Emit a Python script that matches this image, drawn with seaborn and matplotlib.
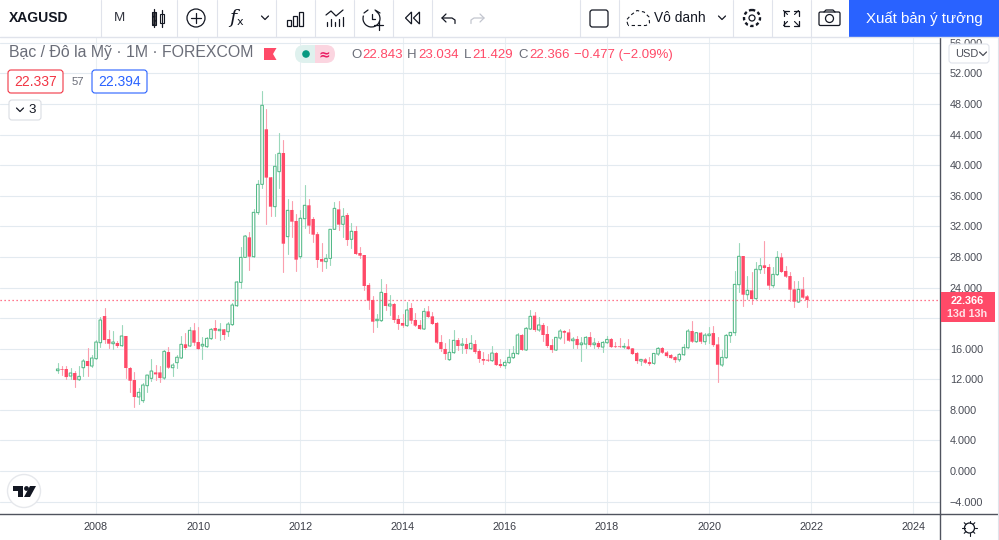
import numpy as np
import pandas as pd
import matplotlib
matplotlib.use('Agg')
import matplotlib.pyplot as plt
from matplotlib.patches import Circle, FancyBboxPatch, Polygon, Rectangle, Arc
import seaborn as sns

# monthly candles, Apr 2007 -> Dec 2021
first_year = 2007.25
open_px = [13.12, 13.34, 13.34, 12.42, 12.82, 11.94, 13.51, 14.39, 13.73,
           14.69, 16.78, 20.27, 17.26, 16.65, 16.74, 16.39, 17.66, 13.47, 11.90, 9.68, 9.20,
           11.16, 12.12, 12.90, 12.90, 12.16, 15.56, 13.51, 14.17, 14.78, 16.57, 16.35, 18.40,
           16.87, 16.35, 16.26, 17.31, 18.70, 18.35, 18.53, 18.22, 19.14, 21.62, 24.67, 27.94,
           30.56, 28.03, 33.79, 37.49, 44.69, 38.41, 34.57, 39.15, 41.59, 30.65, 34.14, 32.70,
           28.03, 33.00, 34.75, 32.96, 30.98, 27.73, 27.38, 27.81, 31.61, 34.22, 32.26, 33.48,
           30.30, 31.39, 28.51, 28.25, 24.33, 22.37, 19.66, 19.66, 23.28, 21.58, 21.84, 19.88,
           19.36, 19.01, 21.32, 19.75, 19.10, 18.57, 20.88, 20.23, 19.36, 16.87, 15.96, 14.56,
           15.48, 17.13, 16.44, 16.61, 16.00, 16.61, 15.70, 14.65, 14.56, 14.43, 15.43, 13.99,
           13.78, 14.17, 14.82, 15.35, 17.79, 15.83, 18.57, 20.32, 18.44, 19.10, 17.92, 16.47,
           15.82, 17.39, 18.31, 18.13, 17.04, 17.26, 16.52, 16.60, 17.52, 16.52, 16.74, 16.21,
           16.78, 17.26, 16.30, 16.30, 16.21, 16.30, 16.04, 15.43, 14.38, 14.60, 14.25, 14.08,
           15.30, 16.08, 15.51, 15.17, 14.90, 14.55, 15.21, 16.12, 18.31, 16.91, 18.09, 16.91,
           17.70, 18.04, 16.56, 13.86, 14.82, 17.70, 18.09, 24.37, 28.12, 23.06, 23.63, 22.54,
           26.33, 26.90, 26.68, 24.24, 25.68, 27.94, 26.16, 25.50, 23.76, 22.10, 23.76, 22.843]
high_px = [14.17, 13.73, 13.73, 13.43, 13.12, 13.73, 14.65, 16.04, 15.17,
           17.13, 20.10, 21.32, 18.44, 18.35, 17.00, 19.09, 17.66, 13.65, 12.90, 10.81, 11.55,
           12.55, 14.65, 13.86, 13.73, 15.82, 16.26, 14.08, 15.17, 17.66, 18.00, 18.88, 19.40,
           18.79, 17.57, 17.57, 18.75, 19.75, 19.40, 18.53, 19.53, 22.02, 24.85, 29.34, 30.87,
           31.21, 34.22, 38.06, 49.74, 47.30, 38.41, 41.46, 44.16, 43.29, 35.57, 35.36, 33.61,
           34.14, 37.41, 35.57, 33.18, 31.21, 29.78, 28.38, 31.61, 35.18, 35.31, 34.35, 33.79,
           32.39, 32.04, 29.34, 28.25, 24.55, 22.89, 20.53, 25.11, 24.46, 23.02, 21.93, 20.40,
           20.53, 22.06, 21.93, 20.62, 19.75, 21.28, 21.58, 20.84, 19.53, 17.79, 16.79, 17.26,
           18.44, 17.44, 17.35, 17.35, 17.79, 17.13, 15.91, 15.52, 15.30, 16.35, 15.52, 14.65,
           14.52, 15.91, 16.35, 18.00, 17.88, 18.88, 21.06, 20.75, 20.18, 19.31, 18.96, 17.26,
           17.48, 18.52, 18.44, 18.57, 17.48, 17.65, 17.56, 17.69, 18.22, 17.43, 17.00, 17.04,
           17.65, 17.35, 16.87, 17.43, 16.78, 17.26, 16.12, 15.56, 14.60, 14.73, 14.86, 15.38,
           16.17, 16.17, 15.69, 15.30, 15.03, 15.47, 16.60, 18.57, 19.66, 18.22, 18.22, 18.00,
           18.87, 18.96, 17.48, 15.82, 17.92, 18.22, 26.20, 29.86, 28.12, 25.50, 26.03, 27.40,
           27.81, 30.12, 27.03, 26.72, 28.77, 28.47, 26.81, 25.98, 24.85, 24.85, 25.42, 23.034]
low_px = [12.86, 12.55, 12.03, 12.07, 10.98, 11.90, 12.42, 12.42, 13.56,
          14.69, 16.26, 16.70, 16.04, 15.95, 16.26, 16.39, 12.21, 10.37, 8.41, 8.76, 9.07,
          10.37, 11.81, 11.90, 11.68, 12.03, 13.43, 12.42, 13.51, 14.78, 15.91, 16.35, 16.48,
          15.91, 14.65, 16.26, 17.26, 17.35, 17.13, 17.26, 17.70, 19.14, 21.62, 23.89, 27.94,
          26.29, 28.03, 33.57, 37.06, 32.30, 33.39, 33.39, 37.06, 26.07, 28.42, 30.65, 26.16,
          27.81, 31.74, 31.17, 29.99, 26.72, 26.20, 26.51, 26.94, 31.61, 31.52, 30.65, 29.56,
          29.21, 28.38, 27.81, 23.67, 21.14, 18.18, 18.79, 19.66, 21.06, 20.40, 19.53, 18.57,
          18.90, 19.01, 19.40, 18.97, 18.53, 18.57, 20.10, 19.18, 16.74, 15.70, 14.61, 14.52,
          15.39, 15.83, 15.39, 15.39, 15.91, 15.39, 14.30, 14.00, 14.43, 14.34, 13.82, 13.56,
          13.50, 14.17, 14.74, 15.30, 15.83, 15.83, 18.57, 18.31, 18.31, 17.04, 16.26, 15.60,
          15.82, 17.26, 16.69, 16.99, 16.12, 16.12, 14.38, 16.12, 16.39, 16.12, 16.12, 15.60,
          16.69, 16.21, 16.17, 16.17, 16.04, 15.91, 15.25, 14.08, 13.86, 14.08, 13.86, 13.99,
          15.17, 15.38, 14.95, 14.73, 14.25, 14.43, 15.12, 16.04, 16.82, 16.82, 16.69, 16.56,
          16.69, 16.39, 11.68, 13.73, 14.73, 16.91, 17.79, 23.37, 21.58, 22.49, 21.84, 22.49,
          25.85, 25.85, 23.80, 24.10, 25.68, 25.98, 25.33, 22.28, 21.40, 22.06, 22.58, 21.429]
close_px = [13.34, 13.25, 12.29, 12.82, 11.90, 12.38, 14.39, 13.73, 14.78,
            16.87, 19.75, 17.13, 16.65, 16.87, 16.35, 17.66, 13.47, 11.81, 9.68, 10.29, 11.25,
            12.55, 13.08, 12.64, 12.16, 15.65, 13.51, 13.86, 14.88, 16.57, 16.09, 18.40, 16.78,
            15.95, 16.57, 17.35, 18.53, 18.35, 18.53, 17.79, 19.22, 21.71, 24.72, 27.94, 30.73,
            28.03, 33.83, 37.49, 47.83, 38.37, 34.57, 39.85, 41.55, 29.73, 34.09, 32.61, 27.64,
            33.05, 34.75, 32.09, 30.91, 27.60, 27.38, 27.81, 31.61, 34.35, 32.22, 33.31, 30.21,
            31.35, 28.38, 28.16, 24.20, 22.28, 19.53, 19.84, 23.37, 21.58, 21.84, 19.75, 19.23,
            19.01, 21.06, 19.66, 19.01, 18.57, 20.88, 20.14, 19.23, 16.79, 15.96, 15.30, 15.52,
            17.09, 16.35, 16.61, 15.96, 16.70, 15.56, 14.65, 14.43, 14.43, 15.43, 13.86, 13.73,
            14.21, 14.87, 15.39, 17.79, 15.83, 18.66, 20.23, 18.44, 19.10, 17.79, 16.35, 15.82,
            17.48, 18.31, 18.09, 17.04, 17.26, 16.47, 16.74, 17.48, 16.47, 16.74, 16.21, 16.82,
            17.21, 16.21, 16.21, 16.21, 16.30, 15.95, 15.30, 14.38, 14.60, 14.16, 13.99, 15.38,
            16.04, 15.47, 15.03, 14.77, 14.51, 15.25, 16.17, 18.31, 16.91, 18.09, 16.91, 17.78,
            17.91, 16.47, 13.90, 14.86, 17.74, 18.13, 24.41, 28.08, 23.06, 23.63, 22.49, 26.38,
            26.85, 26.55, 24.24, 25.72, 27.94, 26.03, 25.42, 23.72, 22.15, 23.76, 22.67, 22.366]

price_ticks = list(range(-4, 57, 4))
year_ticks = [2008, 2010, 2012, 2014, 2016, 2018, 2020, 2022, 2024]
ohlc_labels = ['O', 'H', 'L', 'C']
ohlc_values = ['22.843', '23.034', '21.429', '22.366']

GREEN = '#53b987'
RED = '#ff4a68'
GREEN_WICK = '#9bd8bb'
RED_WICK = '#fb9fae'
GRID = '#e3eaf0'
AXIS = '#50535e'
TEXT = '#131722'
GREY = '#6a6d78'

df = pd.DataFrame({'open': open_px, 'high': high_px, 'low': low_px, 'close': close_px})
df['candle'] = range(len(df))
df['year'] = first_year + df['candle'] / 12
df['direction'] = np.where(df['close'] >= df['open'], 'up', 'down')

wicks = df.melt(id_vars=['candle', 'year', 'direction'], value_vars=['high', 'low'], value_name='price')

sns.set_style('whitegrid', {'grid.color': GRID, 'axes.edgecolor': AXIS})
plt.rcParams['font.family'] = ['Liberation Sans', 'DejaVu Sans']

fig = plt.figure(figsize=(9.99, 5.4), dpi=100)
ax = fig.add_axes([0, 26 / 540, 940 / 999, 477 / 540])

sns.lineplot(data=wicks, x='year', y='price', units='candle', hue='direction', estimator=None,
             sort=False, palette={'up': GREEN_WICK, 'down': RED_WICK}, linewidth=0.8, legend=False, ax=ax)

up = df[df['direction'] == 'up']
down = df[df['direction'] == 'down']
ax.bar(down['year'], down['open'] - down['close'], bottom=down['close'], width=0.066,
       color=RED, linewidth=0, zorder=3, snap=False)
ax.bar(up['year'], up['close'] - up['open'], bottom=up['open'], width=0.05,
       facecolor='white', edgecolor=GREEN, linewidth=0.75, zorder=3, snap=False)

ax.axhline(close_px[-1], color=RED, linestyle=(0, (1, 2.2)), linewidth=0.9, zorder=4)

ax.set_xlim(2006.12, 2024.52)
ax.set_ylim(-5.62, 56.76)
ax.set_xticks(year_ticks)
ax.set_xticklabels([str(y) for y in year_ticks], fontsize=7.8, color='#3c3f48')
ax.set_yticks(price_ticks)
# 20.000 sits behind the last price tag
ax.set_yticklabels(['' if v == 20 else f'{v:.3f}'.replace('-', '\u2212') for v in price_ticks],
                   fontsize=7.8, color='#4a4d57', ha='left')
ax.yaxis.tick_right()
ax.tick_params(axis='y', length=0, pad=7)
ax.tick_params(axis='x', length=0, pad=6)
ax.grid(True, color=GRID, linewidth=0.8)
ax.grid(True, axis='x', color='#e9eff3', linewidth=0.75)
ax.set_xlabel('')
ax.set_ylabel('')
ax.spines['top'].set_visible(False)
ax.spines['left'].set_visible(False)
ax.spines['right'].set_color(AXIS)
ax.spines['bottom'].set_color(AXIS)
ax.spines['right'].set_linewidth(1)
ax.spines['bottom'].set_linewidth(1)

# everything around the plot, in pixel coords
ui = fig.add_axes([0, 0, 1, 1], zorder=5)
ui.set_xlim(0, 999)
ui.set_ylim(540, 0)
ui.axis('off')
ui.patch.set_alpha(0)


def label(x, y, s, color=TEXT, size=8, ha='left', **kw):
    ui.text(x, y, s, color=color, fontsize=size, ha=ha, va='center', **kw)


def stroke(xs, ys, color=TEXT, lw=0.9, **kw):
    ui.plot(xs, ys, color=color, lw=lw, solid_capstyle='round', **kw)


def chevron(x, y, color=TEXT):
    stroke([x - 3.5, x, x + 3.5], [y - 2, y + 1.5, y - 2], color)


def tag(x0, y0, x1, y1, edge, face='white'):
    ui.add_patch(FancyBboxPatch((x0 + 2, y0 + 2), x1 - x0 - 4, y1 - y0 - 4, boxstyle='round,pad=2,rounding_size=3',
                                facecolor=face, edgecolor=edge, linewidth=0.8))


# toolbar
ui.add_patch(Rectangle((0, 0), 999, 37, facecolor='white', edgecolor='none'))
stroke([0, 999], [37, 37], '#e0e3eb', 1)
for sep in [100.5, 177, 217, 275.5, 314.5, 353.5, 392.5, 431.5, 579.5, 618.5, 732.5, 771.5, 810.5]:
    stroke([sep, sep], [0, 37], '#e0e3eb', 0.8)
ui.add_patch(Rectangle((849, 0), 150, 37, facecolor='#2962ff', edgecolor='none'))
label(924, 18.5, 'Xuất bản ý tưởng', 'white', 10.8, ha='center')
label(9, 18, 'XAGUSD', TEXT, 10, fontweight='bold')
label(119.5, 18, 'M', '#333640', 9.6, ha='center')

# candle icon
stroke([154, 154], [9, 27])
ui.add_patch(Rectangle((152, 11.5), 4, 13, facecolor='#555', edgecolor=TEXT, linewidth=0.8, hatch='....'))
stroke([162, 162], [10, 27])
ui.add_patch(Rectangle((160, 14), 4, 9, facecolor='white', edgecolor=TEXT, linewidth=0.8))
# plus in circle
ui.add_patch(Circle((196, 18), 9, facecolor='none', edgecolor=TEXT, linewidth=0.9))
stroke([191, 201], [18, 18])
stroke([196, 196], [13, 23])
# fx
label(233, 18, 'f', TEXT, 14, ha='center', family='DejaVu Serif', style='italic')
label(240, 22, 'x', TEXT, 8, ha='center', family='DejaVu Sans')
chevron(265, 18)
# bars icon
for bx, by in [(286.5, 20), (292.5, 16), (298.5, 11.5)]:
    ui.add_patch(Rectangle((bx, by), 4.5, 25.5 - by, facecolor='none', edgecolor=TEXT, linewidth=0.9))
# indicator icon
stroke([326, 331, 336, 343], [15, 11, 16, 10])
for bx, bt in [(326.5, 22), (330.5, 19), (334.5, 22), (338.5, 19), (342.5, 17)]:
    stroke([bx, bx], [bt, 26])
# alarm
ui.add_patch(Arc((371.5, 18.5), 17, 17, theta1=-60, theta2=200, edgecolor=TEXT, linewidth=0.9))
stroke([364, 368], [13, 10])
stroke([375, 380], [10, 13])
stroke([371.5, 371.5, 375], [14, 19, 19])
stroke([374, 383], [25, 25])
stroke([378.5, 378.5], [20.5, 29.5])
# rewind
for rx in [405.5, 413.5]:
    ui.add_patch(Polygon([(rx + 6, 12), (rx, 18), (rx + 6, 24)], closed=True, facecolor='none', edgecolor=TEXT, linewidth=0.9))
# undo / redo
stroke([446, 442, 446], [14, 18, 22])
stroke([442, 452, 455, 455], [18, 18, 20, 23.5])
stroke([480, 484, 480], [14, 18, 22], '#c3c6cf')
stroke([484, 474, 471, 471], [18, 18, 20, 23.5], '#c3c6cf')
# square
ui.add_patch(FancyBboxPatch((592, 12), 14, 13, boxstyle='round,pad=2,rounding_size=2.5', facecolor='none', edgecolor=TEXT, linewidth=0.9))
# unnamed layout cloud
ui.plot([628, 626.5, 631, 637, 644, 649, 649.5, 646, 628], [25, 20, 15, 10.5, 12, 17, 23, 25.5, 25.5], color=TEXT, lw=0.8, linestyle=(0, (3, 2.5)))
label(654, 18, 'Vô danh', TEXT, 9.9)
chevron(722, 18)
# gear
ui.add_patch(Circle((752, 18), 3, facecolor='none', edgecolor=TEXT, linewidth=0.9))
ui.add_patch(Circle((752, 18), 8, facecolor='none', edgecolor=TEXT, linewidth=1.7, linestyle=(0, (1.4, 1.1))))
# fullscreen
for sx, sy in [(-1, -1), (1, -1), (-1, 1), (1, 1)]:
    cx, cy = 791 + sx * 7.5, 18 + sy * 7.5
    stroke([cx - sx * 5, cx, cx], [cy, cy, cy - sy * 5], TEXT, 0.9)
    stroke([cx, cx - sx * 4], [cy, cy - sy * 4], TEXT, 0.8)
# camera
ui.add_patch(FancyBboxPatch((820, 13), 19, 11.5, boxstyle='round,pad=1,rounding_size=1.5', facecolor='none', edgecolor=TEXT, linewidth=0.9))
stroke([824, 826, 833, 835], [12, 10, 10, 12])
ui.add_patch(Circle((829.5, 18.5), 4, facecolor='none', edgecolor=TEXT, linewidth=0.9))

# legend row
label(9, 53, 'Bạc / Đô la Mỹ · 1M · FOREXCOM', GREY, 11.4)
ui.add_patch(Polygon([(264, 48), (276.5, 48), (273, 54), (276.5, 60), (264, 60)], closed=True, facecolor=RED, edgecolor='none'))
ui.add_patch(FancyBboxPatch((295, 45), 24, 18, boxstyle='round,pad=0,rounding_size=9', facecolor='#dff1ee', edgecolor='none'))
ui.add_patch(FancyBboxPatch((311, 45), 24, 18, boxstyle='round,pad=0,rounding_size=9', facecolor='#fbd5e0', edgecolor='none'))
ui.add_patch(Rectangle((307, 45), 8, 18, facecolor='#dff1ee', edgecolor='none'))
ui.add_patch(Rectangle((315, 45), 8, 18, facecolor='#fbd5e0', edgecolor='none'))
ui.add_patch(Circle((306, 54), 3.8, facecolor='#089981', edgecolor='none'))
label(324, 54, '≈', '#e91e63', 10, ha='center', family='DejaVu Sans', fontweight='bold')

for lx, vx, name, val in zip([351, 407, 464, 518], [362, 418, 472, 529], ohlc_labels, ohlc_values):
    label(lx, 55, name, GREY, 9.5)
    label(vx, 55, val, RED, 9.5)
label(574, 55, '\u22120.477 (\u22122.09%)', RED, 9.5)

tag(8, 70, 63, 93, '#f23645')
label(35.5, 82, '22.337', '#f23645', 10, ha='center')
label(78, 82, '57', GREY, 8.2, ha='center')
tag(92, 70, 147, 93, '#2962ff')
label(119.5, 82, '22.394', '#2962ff', 10, ha='center')
tag(9, 100, 41, 120, '#dadde3')
chevron(20, 110)
label(32.5, 110, '3', TEXT, 9.6, ha='center')

# usd box and last price tag
tag(949, 44, 989, 63, '#e0e3eb')
label(955, 54, 'USD', '#4a4d57', 7.9)
chevron(983, 54, '#4a4d57')
ui.add_patch(Rectangle((940.5, 292), 54.5, 30, facecolor=RED, edgecolor='none'))
label(967, 300.5, '22.366', 'white', 7.8, ha='center', fontweight='bold')
label(967, 314, '13d 13h', '#ffe1e6', 7.8, ha='center', fontweight='bold')
stroke([940, 940], [514, 540], AXIS, 1)
stroke([940, 999], [514, 514], AXIS, 1)
stroke([997.5, 997.5], [37, 540], '#e0e3eb', 0.8)

# sun button
ui.add_patch(Circle((969.5, 528), 5, facecolor='none', edgecolor=TEXT, linewidth=0.9))
for ang in np.arange(0, 360, 45):
    ca, sa = np.cos(np.radians(ang)), np.sin(np.radians(ang))
    stroke([969.5 + 5 * ca, 969.5 + 7.5 * ca], [528 + 5 * sa, 528 + 7.5 * sa], TEXT, 0.8)

# logo
ui.add_patch(Circle((24, 491), 16.5, facecolor='white', edgecolor='#e6e8ec', linewidth=1))
ui.add_patch(Polygon([(13, 486), (23, 486), (23, 497), (18, 497), (18, 491), (13, 491)], closed=True, facecolor=TEXT, edgecolor='none'))
ui.add_patch(Polygon([(30, 486), (36, 486), (30, 497), (24, 497)], closed=True, facecolor=TEXT, edgecolor='none'))
ui.add_patch(Circle((26.5, 488.5), 2.4, facecolor=TEXT, edgecolor='none'))

fig.savefig('out.png', dpi=100)
